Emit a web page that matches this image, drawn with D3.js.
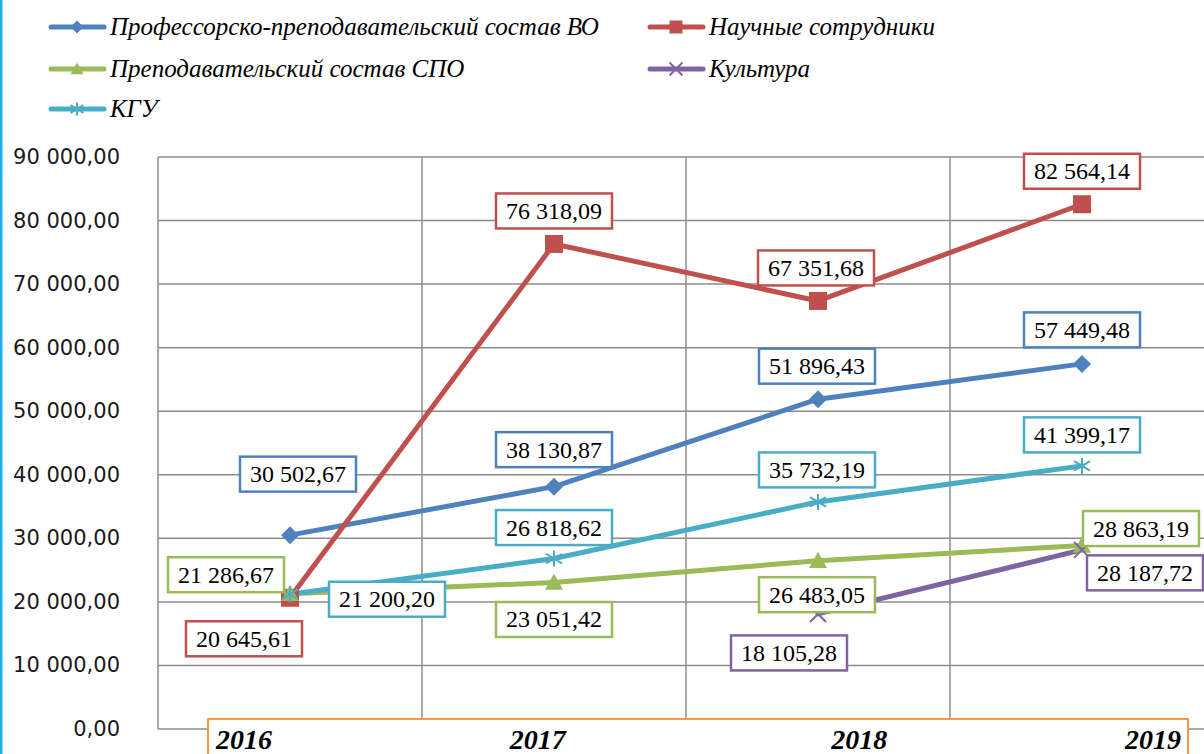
<!DOCTYPE html>
<html>
<head>
<meta charset="utf-8">
<script src="https://cdn.jsdelivr.net/npm/d3@7"></script>
<style>
  body { margin: 0; background: #fff; }
  svg { display: block; }
</style>
</head>
<body>
<script>
// data
var years = ["2016", "2017", "2018", "2019"];
var seriesNames = [
  "Профессорско-преподавательский состав ВО",
  "Научные сотрудники",
  "Преподавательский состав СПО",
  "Культура",
  "КГУ"
];
var ppsVO     = [30502.67, 38130.87, 51896.43, 57449.48];
var nauchnye  = [20645.61, 76318.09, 67351.68, 82564.14];
var prepSPO   = [21286.67, 23051.42, 26483.05, 28863.19];
var kultura   = [null, null, 18105.28, 28187.72];
var kgu       = [21200.20, 26818.62, 35732.19, 41399.17];
var yTicks    = [0, 10000, 20000, 30000, 40000, 50000, 60000, 70000, 80000, 90000];

var svgWidth = 1204;
var svgHeight = 754;

var colors = ["#4F81BD", "#C0504D", "#9BBB59", "#8064A2", "#4BACC6"];
var markers = ["diamond", "square", "triangle", "x", "star"];
var allValues = [ppsVO, nauchnye, prepSPO, kultura, kgu];

// label box centre offsets from each point (layout, not data)
var labelOffsets = [
  [[8, -61], [0, -37], [-1, -33], [0, -34]],
  [[-46, 41], [0, -33], [-2, -33], [0, -33]],
  [[-64, -19], [0, 37], [-1, 34], [59, -17]],
  [null, null, [-29, 39], [63, 23]],
  [[97, 5], [0, -31], [-1, -32], [0, -31]]
];

var fmtLocale = d3.formatLocale({ decimal: ",", thousands: " ", grouping: [3], currency: ["", ""] });
var fmt = fmtLocale.format(",.2f");

var svg = d3.select("body")
  .append("svg")
  .attr("width", svgWidth)
  .attr("height", svgHeight);

// left border
svg.append("rect")
  .attr("x", 0).attr("y", 0)
  .attr("width", 2.5).attr("height", svgHeight)
  .attr("fill", "#1FB0EE");

var xScale = d3.scaleBand()
  .domain(years)
  .range([158, 1214])
  .padding(0);

var yScale = d3.scaleLinear()
  .domain([0, 90000])
  .range([729, 157]);

function cx(year) { return xScale(year) + xScale.bandwidth() / 2; }

var grid = svg.append("g");

// horizontal gridlines
grid.selectAll(".hgrid")
  .data(yTicks)
  .enter()
  .append("line")
  .attr("x1", 158).attr("x2", 1214)
  .attr("y1", d => yScale(d)).attr("y2", d => yScale(d))
  .attr("stroke", "#8c8c8c")
  .attr("stroke-width", 1.5);

// vertical gridlines at category boundaries
grid.selectAll(".vgrid")
  .data(years)
  .enter()
  .append("line")
  .attr("x1", d => xScale(d)).attr("x2", d => xScale(d))
  .attr("y1", yScale(90000)).attr("y2", yScale(0))
  .attr("stroke", "#8c8c8c")
  .attr("stroke-width", 1.5);

// y axis labels
svg.append("g").selectAll("text")
  .data(yTicks)
  .enter()
  .append("text")
  .attr("x", 120)
  .attr("y", d => yScale(d) + 7)
  .attr("text-anchor", "end")
  .style("font-family", "'DejaVu Sans', Verdana, sans-serif")
  .style("font-size", "21px")
  .style("fill", "#1a1a1a")
  .text(d => fmt(d));

// lines
var lineGen = d3.line()
  .defined(d => d.v != null)
  .x(d => cx(d.year))
  .y(d => yScale(d.v));

var seriesData = seriesNames.map(function(name, i) {
  return {
    name: name,
    color: colors[i],
    marker: markers[i],
    points: years.map(function(y, j) { return { year: y, v: allValues[i][j], off: labelOffsets[i][j] }; })
  };
});

var plot = svg.append("g");

plot.selectAll(".series-line")
  .data(seriesData)
  .enter()
  .append("path")
  .attr("d", d => lineGen(d.points))
  .attr("fill", "none")
  .attr("stroke", d => d.color)
  .attr("stroke-width", 5)
  .attr("stroke-linejoin", "round")
  .attr("stroke-linecap", "round");

function drawMarker(g, type, color, s) {
  var h = s / 2;
  if (type === "diamond") {
    g.append("path").attr("d", `M0,${-h}L${h},0L0,${h}L${-h},0Z`).attr("fill", color);
  } else if (type === "square") {
    g.append("rect").attr("x", -h).attr("y", -h).attr("width", s).attr("height", s).attr("fill", color);
  } else if (type === "triangle") {
    g.append("path").attr("d", `M0,${-h}L${h},${h * 0.8}L${-h},${h * 0.8}Z`).attr("fill", color);
  } else if (type === "x") {
    g.append("path").attr("d", `M${-h},${-h}L${h},${h}M${-h},${h}L${h},${-h}`)
      .attr("stroke", color).attr("stroke-width", 2);
  } else if (type === "star") {
    g.append("path").attr("d", `M${-h},${-h * 0.6}L${h},${h * 0.6}M${-h},${h * 0.6}L${h},${-h * 0.6}M0,${-h}L0,${h}`)
      .attr("stroke", color).attr("stroke-width", 2);
  }
}

seriesData.forEach(function(s) {
  s.points.filter(p => p.v != null).forEach(function(p) {
    var g = plot.append("g").attr("transform", `translate(${cx(p.year)},${yScale(p.v)})`);
    drawMarker(g, s.marker, s.color, s.marker === "x" || s.marker === "star" ? 16 : 18);
  });
});

// data labels
var labels = svg.append("g");
seriesData.forEach(function(s) {
  s.points.filter(p => p.v != null).forEach(function(p) {
    var lx = cx(p.year) + p.off[0];
    var ly = yScale(p.v) + p.off[1];
    var g = labels.append("g").attr("transform", `translate(${lx},${ly})`);
    var rect = g.append("rect");
    var t = g.append("text")
      .attr("text-anchor", "middle")
      .attr("y", 8)
      .style("font-family", "'Liberation Serif', 'Times New Roman', serif")
      .style("font-size", "24px")
      .style("fill", "#000")
      .text(fmt(p.v));
    var w = t.node().getComputedTextLength() + 20;
    rect.attr("x", -w / 2).attr("y", -17.5)
      .attr("width", w).attr("height", 35)
      .attr("fill", "#fff")
      .attr("stroke", s.color)
      .attr("stroke-width", 2.5);
  });
});

// category axis box
svg.append("rect")
  .attr("x", 208).attr("y", 719)
  .attr("width", 980).attr("height", 60)
  .attr("fill", "#fff")
  .attr("stroke", "#F79646")
  .attr("stroke-width", 2);

var xLab = d3.scalePoint().domain(years).range([216, 1181]);
svg.append("g").selectAll("text")
  .data(years)
  .enter()
  .append("text")
  .attr("x", d => xLab(d))
  .attr("y", 749)
  .attr("text-anchor", (d, i) => i === 0 ? "start" : (i === years.length - 1 ? "end" : "middle"))
  .style("font-family", "'Liberation Serif', 'Times New Roman', serif")
  .style("font-size", "28px")
  .style("font-weight", "bold")
  .style("font-style", "italic")
  .text(d => d);

// legend
var legendPos = [[49, 27], [648, 27], [49, 69], [648, 69], [49, 109]];
var legend = svg.append("g");
seriesData.forEach(function(s, i) {
  var g = legend.append("g").attr("transform", `translate(${legendPos[i][0]},${legendPos[i][1]})`);
  g.append("line")
    .attr("x1", 2).attr("x2", 55)
    .attr("stroke", s.color)
    .attr("stroke-width", 5)
    .attr("stroke-linecap", "round");
  var m = g.append("g").attr("transform", "translate(28,0)");
  drawMarker(m, s.marker, s.color, 13);
  g.append("text")
    .attr("x", 61)
    .attr("y", 8)
    .style("font-family", "'Liberation Serif', 'Times New Roman', serif")
    .style("font-size", "25px")
    .style("font-style", "italic")
    .text(s.name);
});
</script>
</body>
</html>
